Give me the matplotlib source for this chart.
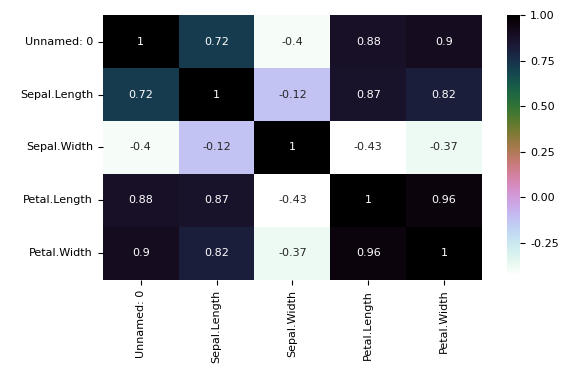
import matplotlib
matplotlib.use("Agg")
import matplotlib.pyplot as plt
import pandas as pd
import seaborn as sns

labels = ["Unnamed: 0", "Sepal.Length", "Sepal.Width", "Petal.Length", "Petal.Width"]
row_unnamed = [1, 0.72, -0.4, 0.88, 0.9]
row_sepal_len = [0.72, 1, -0.12, 0.87, 0.82]
row_sepal_wid = [-0.4, -0.12, 1, -0.43, -0.37]
row_petal_len = [0.88, 0.87, -0.43, 1, 0.96]
row_petal_wid = [0.9, 0.82, -0.37, 0.96, 1]
cbar_ticks = [-0.25, 0.0, 0.25, 0.5, 0.75, 1.0]

corr = pd.DataFrame([row_unnamed, row_sepal_len, row_sepal_wid, row_petal_len, row_petal_wid],
                    index=labels, columns=labels)

fig = plt.figure(figsize=(5.65, 3.66), dpi=100)
ax = fig.add_axes([0.182, 0.235, 0.671, 0.724])
cax = fig.add_axes([0.897, 0.246, 0.024, 0.713])
sns.heatmap(corr, annot=True, cmap="cubehelix_r", ax=ax, cbar_ax=cax,
            annot_kws={"size": 8},
            cbar_kws={"ticks": cbar_ticks, "format": "%.2f"})
ax.tick_params(labelsize=8)
cax.tick_params(labelsize=8)
plt.setp(ax.get_yticklabels(), rotation=0)
plt.setp(ax.get_xticklabels(), rotation=90)
fig.savefig("out.png", dpi=100)
